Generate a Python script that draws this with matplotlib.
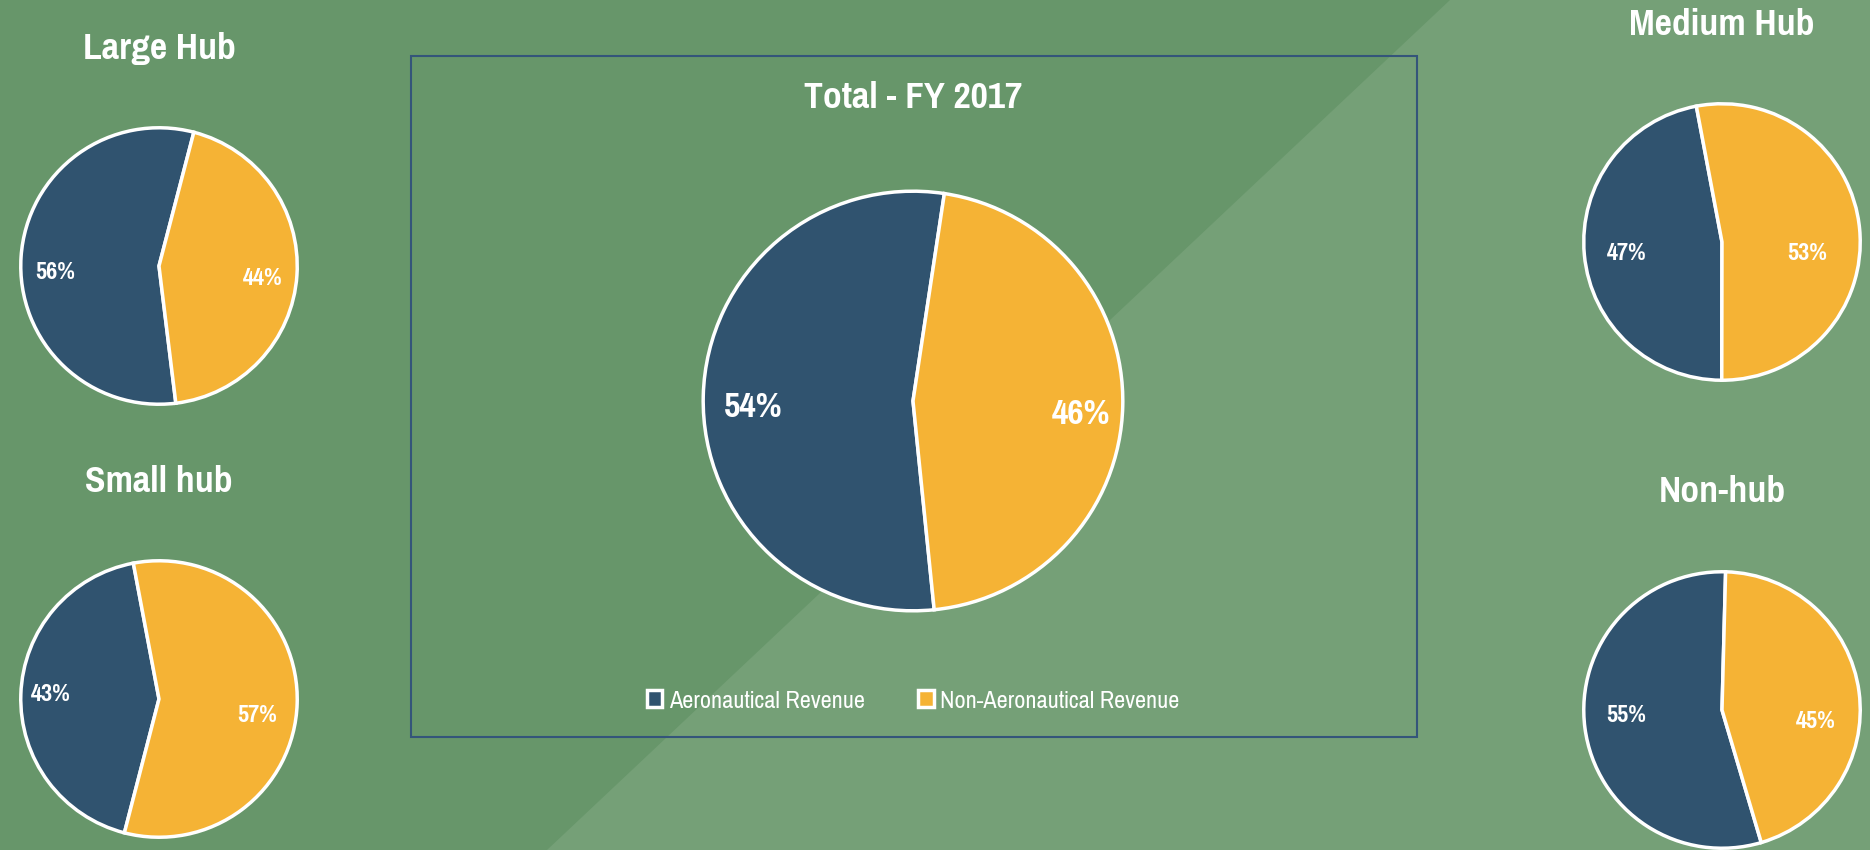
import matplotlib.pyplot as plt
from matplotlib.patches import Patch, Polygon, Rectangle

# data (percent of revenue)
hub_names = ["Large Hub", "Small hub", "Medium Hub", "Non-hub", "Total - FY 2017"]
aero_share = [56, 43, 47, 55, 54]
non_aero_share = [44, 57, 53, 45, 46]
series_labels = ["Aeronautical Revenue", "Non-Aeronautical Revenue"]

NAVY = "#30536F"
ORANGE = "#F5B335"
DARK_GREEN = "#67966A"
LIGHT_GREEN = "#75A077"
BOX = "#34557A"

W, H = 1870, 850
plt.rcParams['font.family'] = ['Pragati Narrow', 'DejaVu Sans']

fig = plt.figure(figsize=(W / 100, H / 100), dpi=100)
fig.patch.set_facecolor(LIGHT_GREEN)

# background with the diagonal split
bg = fig.add_axes([0, 0, 1, 1])
bg.set_xlim(0, W)
bg.set_ylim(H, 0)
bg.axis("off")
bg.add_patch(Polygon([(0, 0), (1450, 0), (547, H), (0, H)], closed=True,
                     facecolor=DARK_GREEN, edgecolor="none"))
bg.add_patch(Rectangle((411, 56), 1006, 681, facecolor="none",
                       edgecolor=BOX, linewidth=1.5))

# layout in pixels: centre x, centre y, radius, title y, start angle, label size,
# label spots (in pie radii) for aero / non-aero
layout = {
    "Large Hub": (159, 266, 141, 48, 75.4, 19, (-0.75, -0.05), (0.75, -0.09)),
    "Small hub": (159, 699, 141, 481, 100.7, 19, (-0.78, 0.03), (0.71, -0.12)),
    "Medium Hub": (1722, 242, 141, 24, 100.7, 19, (-0.69, -0.08), (0.62, -0.08)),
    "Non-hub": (1722, 710, 141, 491, 88.5, 19, (-0.69, -0.04), (0.68, -0.08)),
    "Total - FY 2017": (913, 401, 214, 97, 81.4, 28, (-0.76, -0.03), (0.80, -0.06)),
}

for name, a, n in zip(hub_names, aero_share, non_aero_share):
    cx, cy, r, ty, start, fs, pa, pn = layout[name]
    ax = fig.add_axes([(cx - r) / W, 1 - (cy + r) / H, 2 * r / W, 2 * r / H])
    wedges, texts, pcts = ax.pie([a, n], colors=[NAVY, ORANGE], startangle=start,
                                 counterclock=True, autopct=lambda p: f"{p:.0f}%",
                                 radius=1, wedgeprops=dict(edgecolor="white", linewidth=2.5),
                                 textprops=dict(color="white", fontsize=fs, fontweight="bold"))
    pcts[0].set_position(pa)
    pcts[1].set_position(pn)
    ax.set_xlim(-1.02, 1.02)
    ax.set_ylim(-1.02, 1.02)
    ax.set_aspect("equal")
    bg.text(cx, ty, name, ha="center", va="center", color="white",
            fontsize=29.5, fontweight="bold")

handles = [Patch(facecolor=NAVY, edgecolor="white", linewidth=2.5),
           Patch(facecolor=ORANGE, edgecolor="white", linewidth=2.5)]
leg = fig.legend(handles, series_labels, loc="center", bbox_to_anchor=(913 / W, 1 - 701 / H),
                 ncol=2, frameon=False, fontsize=19, handlelength=0.6, handleheight=0.6,
                 handletextpad=0.25, columnspacing=2.0)
for t in leg.get_texts():
    t.set_color("white")

fig.savefig("out.png", dpi=100, facecolor=fig.get_facecolor())
